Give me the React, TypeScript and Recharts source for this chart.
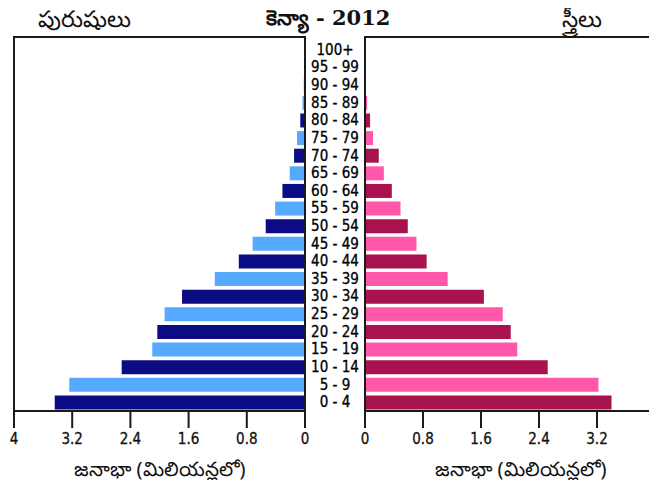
import { BarChart, Bar, XAxis, YAxis, Cell } from "recharts";

const ageGroups = [
  "100+", "95 - 99", "90 - 94", "85 - 89", "80 - 84", "75 - 79", "70 - 74",
  "65 - 69", "60 - 64", "55 - 59", "50 - 54", "45 - 49", "40 - 44", "35 - 39",
  "30 - 34", "25 - 29", "20 - 24", "15 - 19", "10 - 14", "5 - 9", "0 - 4",
];
const maleMillions = [
  0.005, 0.008, 0.015, 0.035, 0.065, 0.11, 0.15, 0.21, 0.31, 0.41, 0.54,
  0.72, 0.91, 1.24, 1.69, 1.93, 2.03, 2.1, 2.52, 3.24, 3.44,
];
const femaleMillions = [
  0.003, 0.005, 0.01, 0.03, 0.07, 0.11, 0.19, 0.26, 0.37, 0.49, 0.59,
  0.71, 0.85, 1.14, 1.64, 1.9, 2.01, 2.1, 2.52, 3.22, 3.4,
];
const xTicks = [0, 0.8, 1.6, 2.4, 3.2, 4];

const maleColors = ["#0b0b84", "#55aaff"];
const femaleColors = ["#a8124f", "#ff58aa"];

const data = ageGroups.map((age, i) => ({
  age,
  male: maleMillions[i],
  female: femaleMillions[i],
}));

const tickFont = {
  fontFamily: "'DejaVu Sans Condensed', 'DejaVu Sans'",
  fontSize: 15,
  fill: "#111",
  stroke: "#111",
  strokeWidth: 0.3,
};

function AgeTick(props: any) {
  const { x, y, payload } = props;
  return (
    <text
      x={x - 30}
      y={y}
      dy={5}
      textAnchor="middle"
      fontFamily="'DejaVu Sans Condensed', 'DejaVu Sans'"
      fontSize={15}
      fill="#000"
      stroke="#000"
      strokeWidth={0.3}
    >
      {payload.value}
    </text>
  );
}

const label = (text: string, left: number, top: number, extra: any = {}) => (
  <div
    style={{
      position: "absolute",
      left,
      top,
      transform: "translateX(-50%)",
      whiteSpace: "nowrap",
      fontFamily: "'Noto Sans', 'DejaVu Sans', sans-serif",
      fontSize: 20,
      lineHeight: "24px",
      color: "#111",
      ...extra,
    }}
  >
    {text}
  </div>
);

const frame = (left: number, width: number) => (
  <div
    style={{
      position: "absolute",
      left: left - 1,
      top: 36,
      width,
      height: 375,
      border: "2px solid #1a1a1a",
      borderBottom: "none",
      boxSizing: "border-box",
      pointerEvents: "none",
    }}
  />
);

function App() {
  return (
    <div
      style={{
        position: "relative",
        width: 657,
        height: 488,
        margin: -8,
        background: "#fff",
        overflow: "hidden",
      }}
    >
      <div style={{ position: "absolute", left: 0, top: 0 }}>
        <BarChart
          width={320}
          height={488}
          data={data}
          layout="vertical"
          margin={{ top: 37, left: 14, right: 15, bottom: 37 }}
          barCategoryGap={2}
        >
          <XAxis
            type="number"
            domain={[0, 4]}
            ticks={xTicks}
            interval={0}
            reversed
            allowDataOverflow
            tickSize={17}
            tickMargin={5}
            height={40}
            stroke="#1a1a1a"
            strokeWidth={2}
            tick={tickFont}
            tickFormatter={(v: number) => String(v)}
          />
          <YAxis
            type="category"
            dataKey="age"
            width={0}
            tick={false}
            tickLine={false}
            axisLine={false}
            padding={{ top: 4, bottom: 0 }}
          />
          <Bar dataKey="male" isAnimationActive={false}>
            {data.map((d, i) => (
              <Cell key={d.age} fill={maleColors[i % 2]} />
            ))}
          </Bar>
        </BarChart>
      </div>

      <div style={{ position: "absolute", left: 305, top: 0 }}>
        <BarChart
          width={352}
          height={488}
          data={data}
          layout="vertical"
          margin={{ top: 37, left: 0, right: 2, bottom: 37 }}
          barCategoryGap={2}
        >
          <XAxis
            type="number"
            domain={[0, 4]}
            ticks={xTicks}
            interval={0}
            allowDataOverflow
            tickSize={17}
            tickMargin={5}
            height={40}
            stroke="#1a1a1a"
            strokeWidth={2}
            tick={tickFont}
            tickFormatter={(v: number) => String(v)}
          />
          <YAxis
            type="category"
            dataKey="age"
            width={60}
            tickSize={0}
            tickMargin={0}
            tickLine={false}
            axisLine={false}
            tick={<AgeTick />}
            interval={0}
            padding={{ top: 4, bottom: 0 }}
          />
          <Bar dataKey="female" isAnimationActive={false}>
            {data.map((d, i) => (
              <Cell key={d.age} fill={femaleColors[i % 2]} />
            ))}
          </Bar>
        </BarChart>
      </div>

      {frame(14, 293)}
      {frame(365, 293)}

      {label("పురుషులు", 84, 4, { fontSize: 23, lineHeight: "28px" })}
      {label("కెన్యా - 2012", 328, 4, {
        fontFamily: "'DejaVu Serif', serif",
        fontWeight: "bold",
        fontSize: 21,
        lineHeight: "28px",
      })}
      {label("స్త్రీలు", 582, 4, { fontSize: 23, lineHeight: "28px" })}
      {label("జనాభా (మిలియన్లలో)", 160, 457)}
      {label("జనాభా (మిలియన్లలో)", 521, 457)}
    </div>
  );
}

export default App;
